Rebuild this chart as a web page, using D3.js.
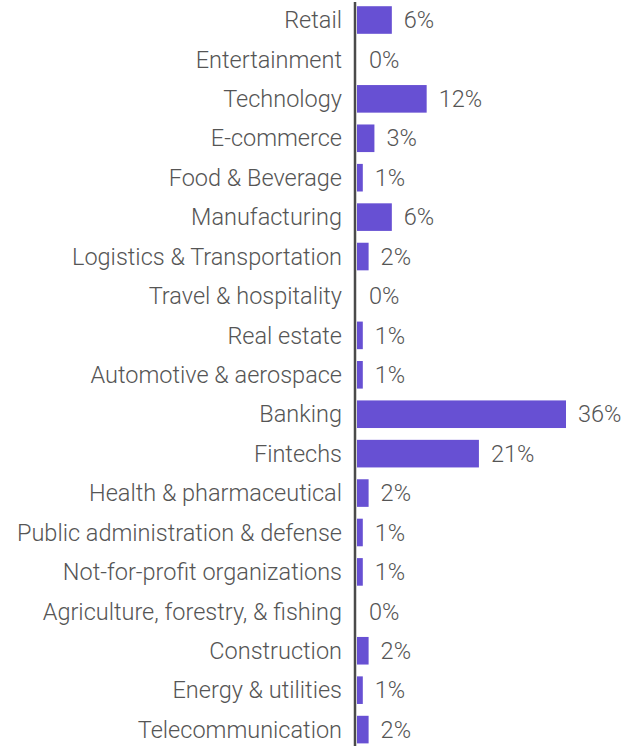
<!DOCTYPE html>
<html>
<head>
<meta charset="utf-8">
<script src="https://cdn.jsdelivr.net/npm/d3@7"></script>
<style>
  html, body { margin: 0; padding: 0; background: #fff; }
  svg { display: block; }
  text { font-family: Roboto, "Noto Sans", sans-serif; font-weight: 300; }
</style>
</head>
<body>
<svg id="chart" width="624" height="746"></svg>
<script>
// Share of respondents by industry (%)
const industries = [
  "Retail", "Entertainment", "Technology", "E-commerce", "Food & Beverage",
  "Manufacturing", "Logistics & Transportation", "Travel & hospitality",
  "Real estate", "Automotive & aerospace", "Banking", "Fintechs",
  "Health & pharmaceutical", "Public administration & defense",
  "Not-for-profit organizations", "Agriculture, forestry, & fishing",
  "Construction", "Energy & utilities", "Telecommunication"
];
const shares = [6, 0, 12, 3, 1, 6, 2, 0, 1, 1, 36, 21, 2, 1, 1, 0, 2, 1, 2];

const svg = d3.select("#chart");
const axisX = 355;

const y = d3.scaleBand()
  .domain(industries)
  .range([0.3, 749.3])
  .paddingInner(0.3)
  .paddingOuter(0.15);

const x = d3.scaleLinear()
  .domain([0, 36])
  .range([357, 566]);

const rows = industries.map((name, i) => ({ name, value: shares[i] }));

// bars
svg.append("g")
  .selectAll("rect")
  .data(rows)
  .join("rect")
  .attr("x", x(0))
  .attr("y", d => y(d.name))
  .attr("width", d => x(d.value) - x(0))
  .attr("height", y.bandwidth())
  .attr("fill", "#6750d3");

// category labels
svg.append("g")
  .selectAll("text")
  .data(rows)
  .join("text")
  .attr("x", axisX - 13)
  .attr("y", d => y(d.name) + y.bandwidth() / 2)
  .attr("dy", "0.35em")
  .attr("text-anchor", "end")
  .attr("font-size", 23.5)
  .attr("fill", "#555")
  .text(d => d.name);

// value labels
svg.append("g")
  .selectAll("text")
  .data(rows)
  .join("text")
  .attr("x", d => x(d.value) + 12)
  .attr("y", d => y(d.name) + y.bandwidth() / 2)
  .attr("dy", "0.35em")
  .attr("font-size", 23.5)
  .attr("fill", "#555")
  .text(d => d.value + "%");

// baseline
svg.append("line")
  .attr("x1", axisX).attr("x2", axisX)
  .attr("y1", 2).attr("y2", 746)
  .attr("stroke", "#4a4a4a")
  .attr("stroke-width", 2.5);
</script>
</body>
</html>
